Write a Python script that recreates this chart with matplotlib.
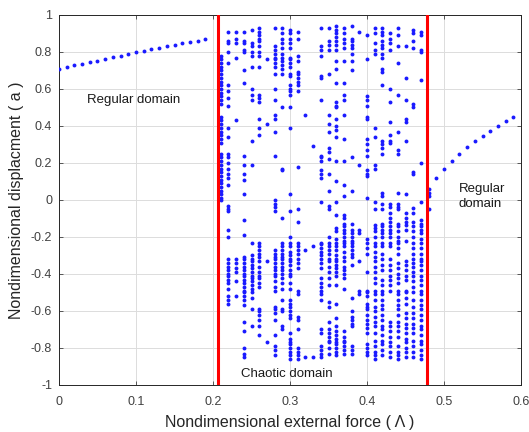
import matplotlib
matplotlib.use("Agg")
import matplotlib.pyplot as plt
from matplotlib.ticker import FuncFormatter

# ---- data ----
left_x = [0.00, 0.01, 0.02, 0.03, 0.04, 0.05, 0.06, 0.07, 0.08, 0.09,
          0.10, 0.11, 0.12, 0.13, 0.14, 0.15, 0.16, 0.17, 0.18, 0.19]
left_y = [0.708, 0.717, 0.727, 0.736, 0.745, 0.754, 0.763, 0.772, 0.781, 0.790,
          0.798, 0.806, 0.814, 0.822, 0.830, 0.838, 0.846, 0.854, 0.862, 0.872]

right_x = [0.48, 0.48, 0.48, 0.48, 0.49, 0.50, 0.51, 0.52, 0.53, 0.54, 0.55, 0.56, 0.57, 0.58, 0.59]
right_y = [0.06, 0.04, 0.02, -0.05, 0.117, 0.168, 0.211, 0.250, 0.286, 0.317, 0.346, 0.375, 0.400, 0.427, 0.450]

chaos_x = [0.21, 0.22, 0.23, 0.24, 0.25, 0.26, 0.27, 0.28, 0.29, 0.30, 0.31, 0.32, 0.33, 0.34,
           0.35, 0.36, 0.37, 0.38, 0.39, 0.40, 0.41, 0.42, 0.43, 0.44, 0.45, 0.46, 0.47]
c21 = [0.78, 0.76, 0.74, 0.72, 0.70, 0.68, 0.66, 0.64, 0.62, 0.60, 0.58, 0.56, 0.54, 0.52,
       0.45, 0.43, 0.41, 0.39, 0.37, 0.35, 0.33, 0.31, 0.25, 0.23, 0.21, 0.19, 0.17, 0.15,
       0.13, 0.11, 0.09, 0.07, 0.05, 0.03, 0.01, 0.0]
c22 = [0.91, 0.86, 0.85, 0.80, 0.74, 0.62, 0.59, 0.55, 0.51, 0.39, 0.34, 0.25, 0.23, 0.20,
       0.17, 0.14, 0.12, 0.08, -0.03, -0.05, -0.06, -0.16, -0.20, -0.32, -0.34, -0.36, -0.38,
       -0.40, -0.41, -0.43, -0.45, -0.48, -0.52, -0.54, -0.56]
c23 = [0.91, 0.87, 0.85, 0.77, 0.43, -0.32, -0.34, -0.37, -0.39, -0.44, -0.52]
c24 = [0.91, 0.86, 0.85, 0.81, 0.80, 0.70, 0.63, 0.24, 0.19, 0.14, 0.11, 0.03, -0.11, -0.19,
       -0.31, -0.32, -0.34, -0.36, -0.38, -0.40, -0.41, -0.43, -0.45, -0.47, -0.49, -0.50,
       -0.52, -0.54, -0.57, -0.66, -0.71, -0.80, -0.83, -0.85]
c25 = [0.92, 0.85, 0.83, 0.80, 0.78, 0.72, 0.60, 0.57, 0.54, 0.32, 0.19, -0.23, -0.30, -0.32,
       -0.33, -0.35, -0.37, -0.39, -0.41, -0.42, -0.44, -0.46, -0.48, -0.50, -0.53, -0.59, -0.68]
c26 = [0.93, 0.91, 0.89, 0.87, 0.86, 0.83, 0.80, 0.78, 0.72, 0.57, 0.55, 0.53, 0.44, 0.39,
       0.35, -0.23, -0.25, -0.27, -0.29, -0.31, -0.33, -0.36, -0.39, -0.41, -0.42, -0.45,
       -0.47, -0.59, -0.60, -0.62, -0.65, -0.68, -0.73]
c27 = [0.76, 0.41, -0.33, -0.77]
c28 = [0.93, 0.83, 0.81, 0.79, 0.77, 0.76, 0.74, 0.72, 0.68, 0.60, 0.54, 0.46, 0.44, 0.37,
       0.24, 0.0, -0.02, -0.04, -0.06, -0.27, -0.29, -0.31, -0.32, -0.34, -0.36, -0.38, -0.40,
       -0.41, -0.44, -0.47, -0.49, -0.58, -0.59, -0.61, -0.65, -0.73, -0.79, -0.81, -0.84]
c29 = [0.93, 0.90, 0.87, 0.85, 0.82, 0.79, 0.77, 0.75, 0.73, 0.71, 0.68, 0.50, 0.17, 0.16,
       -0.10, -0.23, -0.25, -0.27, -0.29, -0.31, -0.32, -0.34, -0.36, -0.38, -0.40, -0.42,
       -0.45, -0.48, -0.54, -0.59, -0.60, -0.68, -0.70]
c30 = [0.92, 0.90, 0.87, 0.85, 0.82, 0.77, 0.76, 0.74, 0.72, 0.68, 0.67, 0.62, 0.60, 0.59,
       0.57, 0.50, 0.39, 0.03, -0.06, -0.20, -0.23, -0.25, -0.28, -0.30, -0.32, -0.33, -0.35,
       -0.38, -0.40, -0.41, -0.45, -0.48, -0.54, -0.56, -0.58, -0.60, -0.62, -0.64, -0.72,
       -0.75, -0.77, -0.78, -0.80, -0.82, -0.84, -0.86]
c31 = [0.91, 0.87, 0.78, 0.75, 0.69, 0.68, 0.66, 0.64, 0.62, 0.59, 0.18, -0.05, -0.12, -0.23,
       -0.25, -0.27, -0.29, -0.32, -0.34, -0.37, -0.49, -0.51, -0.63, -0.65, -0.70, -0.80,
       -0.82, -0.84, -0.86]
c32 = [0.46, -0.27, -0.85]
c33 = [0.29, -0.25, -0.85]
c34 = [0.93, 0.83, 0.81, 0.78, 0.67, 0.66, 0.54, 0.24, 0.23, 0.21, 0.16, 0.14, 0.12, -0.01,
       -0.23, -0.24, -0.26, -0.28, -0.30, -0.32, -0.34, -0.37, -0.42, -0.45, -0.47, -0.49,
       -0.51, -0.54, -0.70, -0.72, -0.79, -0.81, -0.83, -0.85]
c35 = [0.93, 0.86, 0.84, 0.81, 0.68, 0.46, 0.41, 0.37, 0.28, 0.26, 0.22, 0.14, 0.05, -0.03,
       -0.05, -0.20, -0.23, -0.25, -0.27, -0.29, -0.32, -0.33, -0.36, -0.39, -0.42, -0.46,
       -0.55, -0.58, -0.66, -0.70, -0.72, -0.74, -0.76, -0.77, -0.80, -0.83]
c36 = [0.94, 0.92, 0.90, 0.88, 0.86, 0.84, 0.81, 0.75, 0.71, 0.63, 0.53, 0.51, 0.50, 0.44,
       0.40, 0.38, 0.34, 0.21, 0.10, -0.01, -0.08, -0.15, -0.17, -0.21, -0.23, -0.25, -0.27,
       -0.30, -0.32, -0.33, -0.35, -0.37, -0.39, -0.41, -0.46, -0.56, -0.64, -0.68, -0.71,
       -0.73, -0.75, -0.77, -0.78, -0.80, -0.82, -0.84]
c37 = [0.93, 0.90, 0.87, 0.85, 0.82, 0.75, 0.63, 0.57, 0.54, 0.46, 0.33, 0.21, 0.08, 0.02,
       -0.08, -0.10, -0.13, -0.14, -0.16, -0.18, -0.20, -0.22, -0.23, -0.25, -0.28, -0.31,
       -0.33, -0.36, -0.38, -0.40, -0.42, -0.48, -0.71, -0.74, -0.76, -0.77, -0.79, -0.81, -0.83]
c38 = [0.94, 0.87, 0.86, 0.84, 0.82, 0.79, 0.75, 0.70, 0.23, 0.05, -0.13, -0.16, -0.18,
       -0.20, -0.22, -0.23, -0.25, -0.27, -0.29, -0.31, -0.35, -0.53, -0.60, -0.63, -0.65,
       -0.67, -0.68, -0.79, -0.81, -0.83]
c39 = [0.91, 0.19, -0.16, -0.18, -0.33, -0.49, -0.51]
c40 = [0.89, 0.76, 0.56, 0.54, 0.51, 0.45, 0.44, 0.33, 0.30, 0.27, 0.24, 0.16, 0.14, 0.13,
       0.01, -0.21, -0.23, -0.26, -0.29, -0.39, -0.49, -0.50, -0.52, -0.56, -0.58, -0.59,
       -0.62, -0.65, -0.67, -0.69, -0.72, -0.78, -0.80, -0.82, -0.84]
c41 = [0.93, 0.90, 0.85, 0.81, 0.79, 0.39, 0.34, 0.19, 0.17, -0.01, -0.05, -0.135, -0.15,
       -0.17, -0.20, -0.23, -0.25, -0.28, -0.31, -0.33, -0.36, -0.39, -0.42, -0.45, -0.49,
       -0.51, -0.54, -0.58, -0.60, -0.63, -0.66, -0.68, -0.72, -0.76, -0.79, -0.82, -0.84, -0.86]
c42 = [0.93, 0.91, 0.89, 0.86, 0.84, 0.82, 0.79, 0.77, 0.71, 0.69, 0.62, 0.32, 0.30, 0.28,
       0.25, 0.04, 0.02, -0.02, -0.05, -0.13, -0.14, -0.16, -0.18, -0.20, -0.23, -0.25, -0.29,
       -0.32, -0.35, -0.38, -0.43, -0.46, -0.49, -0.51, -0.54, -0.57, -0.59, -0.62, -0.65,
       -0.68, -0.70, -0.73, -0.76, -0.78, -0.81, -0.84]
c43 = [0.90, 0.87, 0.85, 0.81, 0.60, 0.53, 0.42, 0.35, 0.32, 0.31, -0.02, -0.04, -0.07,
       -0.10, -0.12, -0.14, -0.16, -0.18, -0.20, -0.23, -0.25, -0.32, -0.35, -0.38, -0.41,
       -0.43, -0.46, -0.49, -0.66, -0.68, -0.71, -0.74, -0.77, -0.79, -0.82, -0.85]
c44 = [0.93, 0.89, 0.83, 0.74, 0.57, 0.37, 0.27, 0.25, 0.04, -0.02, -0.04, -0.05, -0.13,
       -0.14, -0.17, -0.20, -0.22, -0.23, -0.26, -0.29, -0.34, -0.37, -0.40, -0.42, -0.45,
       -0.49, -0.51, -0.54, -0.57, -0.59, -0.62, -0.66, -0.68, -0.71, -0.74, -0.79, -0.82,
       -0.84, -0.86]
c45 = [0.83, 0.66, 0.54, 0.44, 0.42, 0.32, 0.03, -0.07, -0.10, -0.12, -0.135, -0.16, -0.22,
       -0.33, -0.35, -0.38, -0.41, -0.43, -0.49, -0.50, -0.53, -0.56, -0.61, -0.64, -0.67,
       -0.69, -0.72, -0.75, -0.77, -0.80, -0.82, -0.85]
c46 = [0.92, 0.90, 0.86, 0.82, 0.52, 0.50, 0.15, 0.14, -0.045, -0.07, -0.12, -0.14, -0.17,
       -0.20, -0.23, -0.26, -0.29, -0.32, -0.34, -0.36, -0.39, -0.41, -0.44, -0.47, -0.50,
       -0.54, -0.58, -0.61, -0.64, -0.67, -0.69, -0.72, -0.76, -0.79, -0.82, -0.85]
c47 = [0.91, 0.89, 0.81, 0.80, 0.65, 0.20, -0.01, -0.11, -0.13, -0.14, -0.16, -0.18, -0.21,
       -0.23, -0.26, -0.29, -0.32, -0.33, -0.35, -0.38, -0.41, -0.43, -0.46, -0.49, -0.51,
       -0.54, -0.57, -0.59, -0.62, -0.65, -0.68, -0.70, -0.73, -0.76, -0.78, -0.81, -0.84, -0.86]
chaos_y = [c21, c22, c23, c24, c25, c26, c27, c28, c29, c30, c31, c32, c33, c34,
           c35, c36, c37, c38, c39, c40, c41, c42, c43, c44, c45, c46, c47]

boundaries = [0.206, 0.478]

x_ticks = [0, 0.1, 0.2, 0.3, 0.4, 0.5, 0.6]
y_ticks = [-1, -0.8, -0.6, -0.4, -0.2, 0, 0.2, 0.4, 0.6, 0.8, 1]

# ---- plot ----
plt.rcParams['font.family'] = ['Liberation Sans', 'DejaVu Sans']
fig = plt.figure(figsize=(5.29, 4.32), dpi=100)
ax = fig.add_axes([0.1115, 0.1088, 0.8735, 0.8565])

dot = dict(linestyle='none', marker='o', markersize=2.8, color='#1a1aff',
           markeredgewidth=0, zorder=3)

ax.plot(left_x, left_y, **dot)
ax.plot(right_x, right_y, **dot)
for xv, ys in zip(chaos_x, chaos_y):
    ax.plot([xv] * len(ys), ys, **dot)

for b in boundaries:
    ax.axvline(b, color='#ff0000', linewidth=2.2, zorder=4)

ax.set_xlim(0, 0.6)
ax.set_ylim(-1, 1)
ax.set_xticks(x_ticks)
ax.set_yticks(y_ticks)
fmt = FuncFormatter(lambda v, p: ('%g' % v).replace('\u2212', '-'))
ax.xaxis.set_major_formatter(fmt)
ax.yaxis.set_major_formatter(fmt)

ax.grid(True, color='#dcdcdc', linewidth=0.7, zorder=0)
ax.set_axisbelow(True)
ax.tick_params(direction='in', length=3, width=0.6, colors='#404040',
               labelsize=9, top=True, right=True, labeltop=False, labelright=False)
ax.tick_params(axis='x', pad=8)
ax.tick_params(axis='y', pad=5)
for s in ax.spines.values():
    s.set_color('#262626')
    s.set_linewidth(0.7)

ax.set_xlabel('Nondimensional external force ( \u039b )', fontsize=11.5, color='#262626',
              labelpad=5)
ax.set_ylabel('Nondimensional displacment ( a )', fontsize=11.5, color='#262626',
              labelpad=5)

ax.text(0.036, 0.54, 'Regular domain', fontsize=9.5, color='#1a1a1a', va='center', ha='left')
ax.text(0.519, 0.02, 'Regular\ndomain', fontsize=9.5, color='#1a1a1a', va='center', ha='left',
        linespacing=1.3)
ax.text(0.236, -0.94, 'Chaotic domain', fontsize=9.5, color='#1a1a1a', va='center', ha='left')

fig.savefig('out.png', dpi=100)
